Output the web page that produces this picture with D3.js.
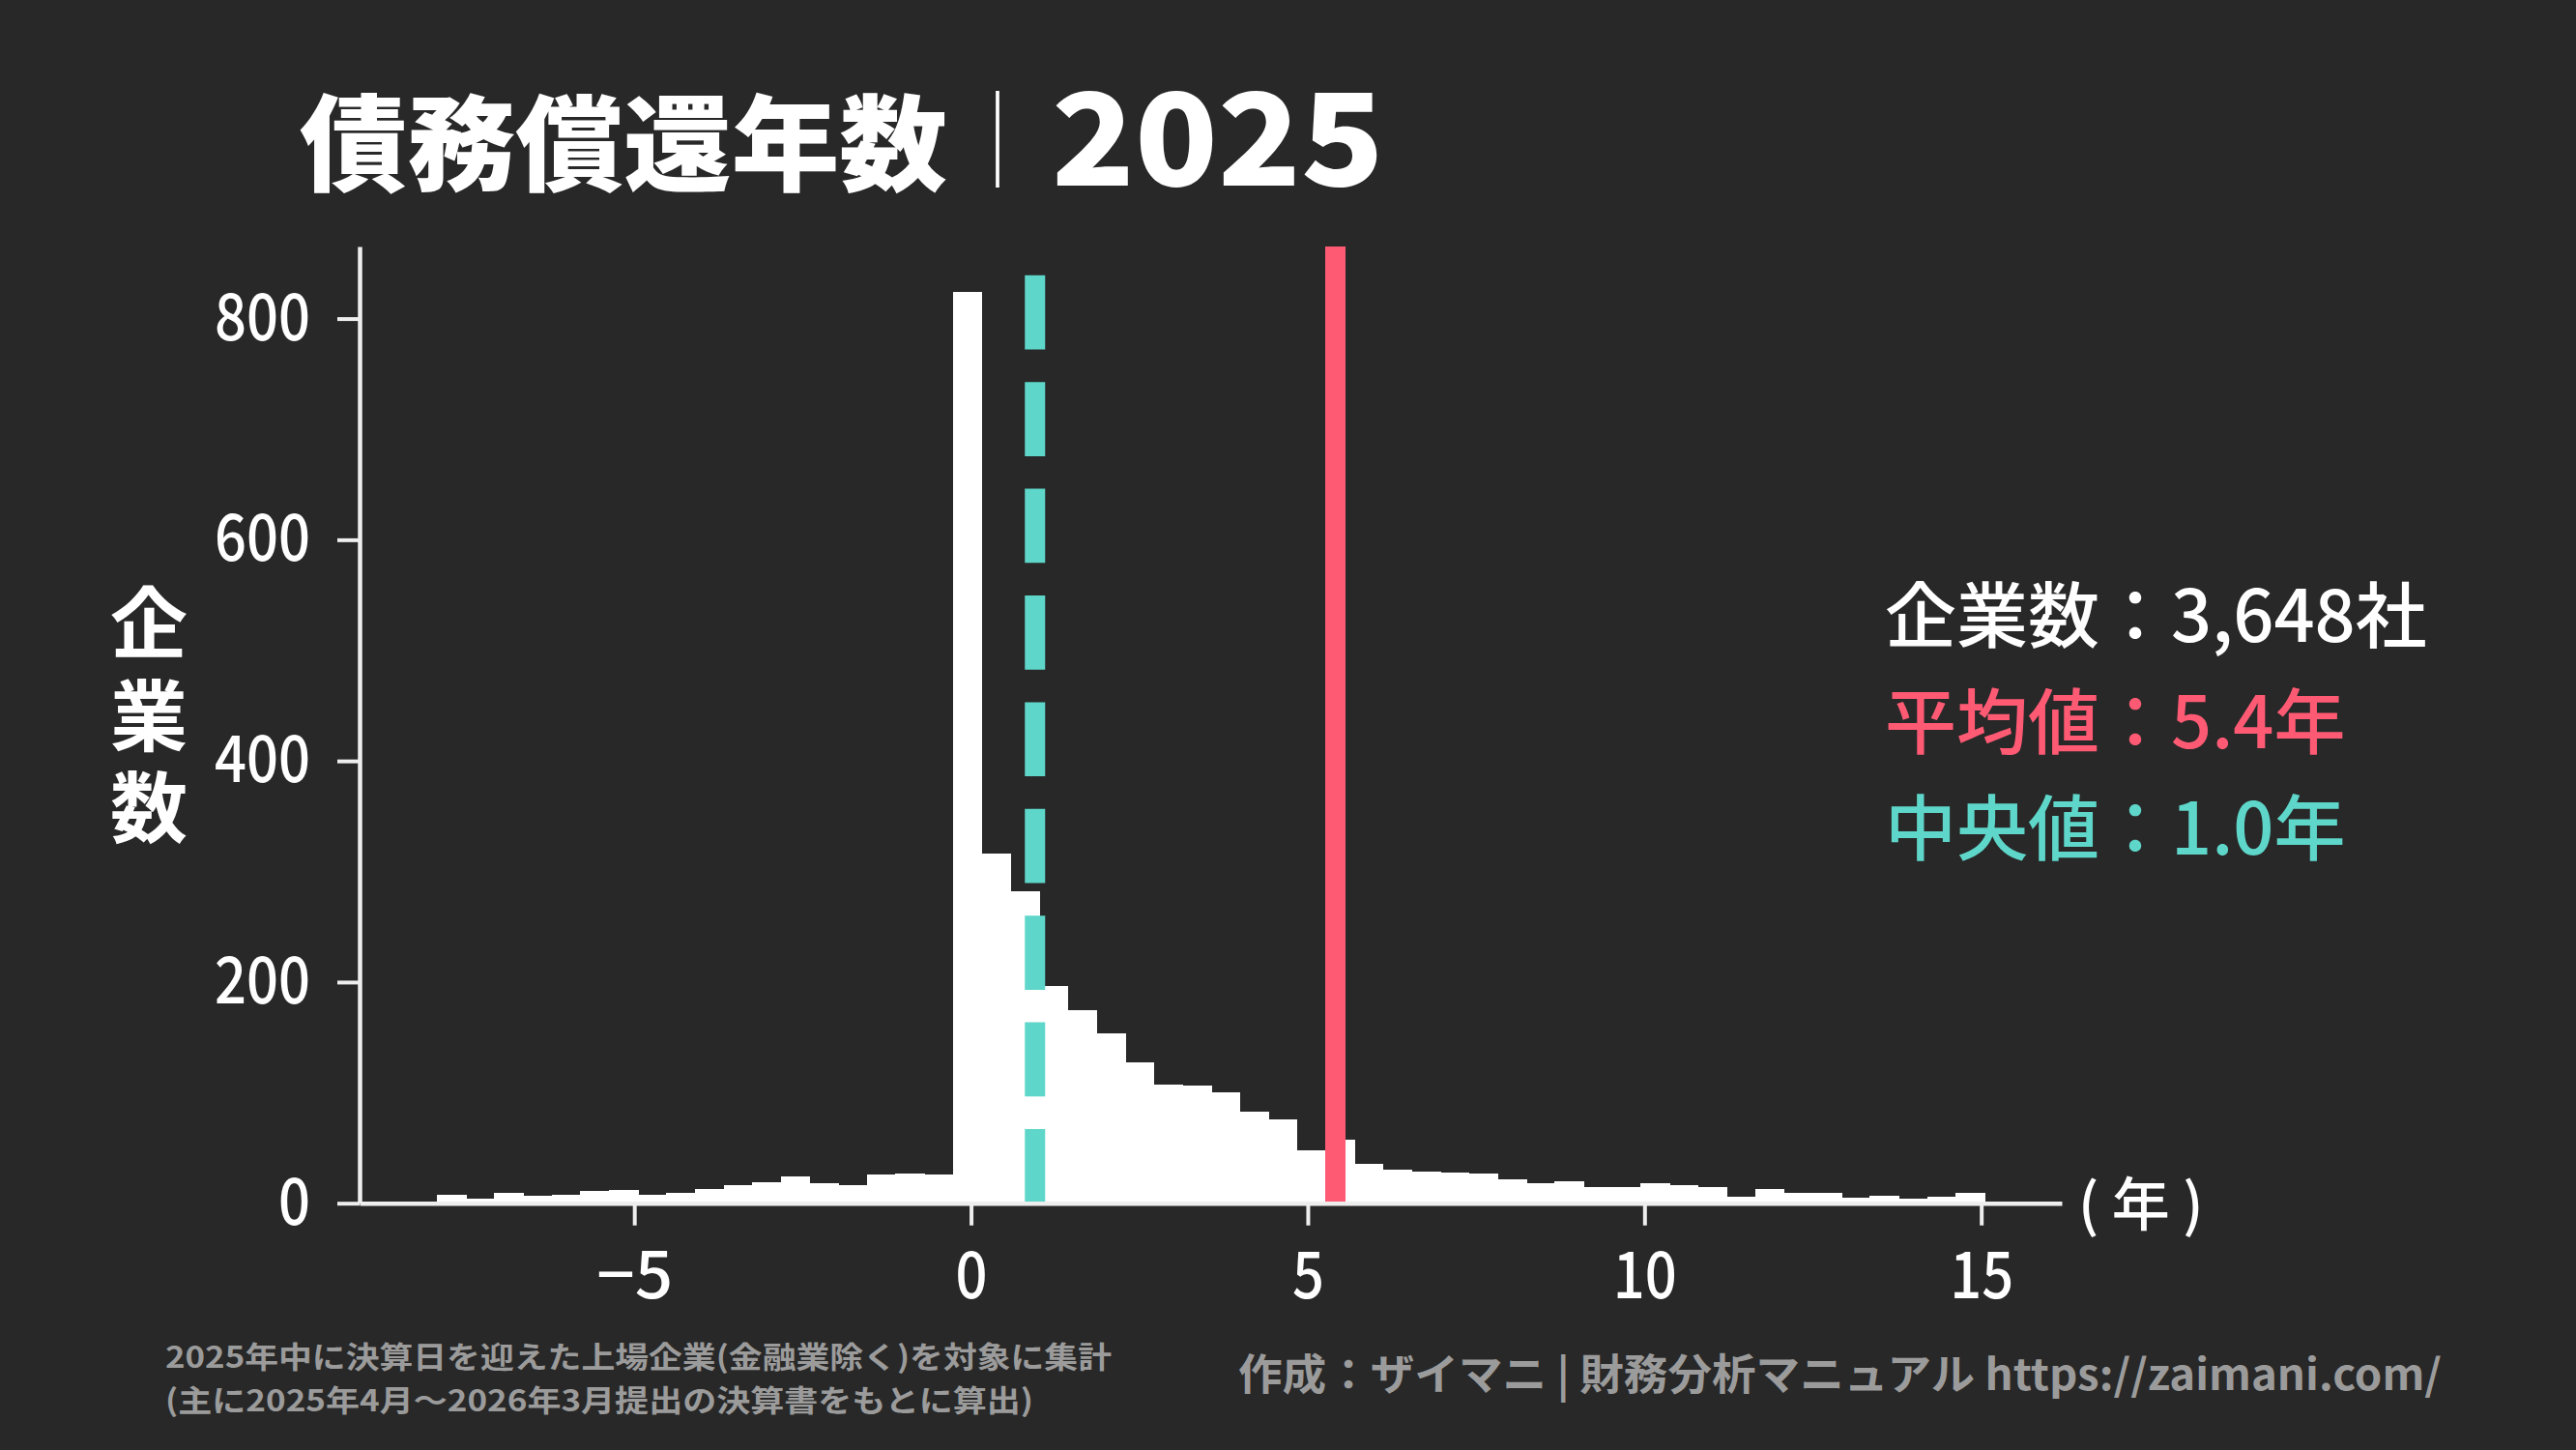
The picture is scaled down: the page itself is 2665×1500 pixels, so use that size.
<!DOCTYPE html>
<html><head><meta charset="utf-8">
<script src="https://cdn.jsdelivr.net/npm/d3@7"></script>
<style>html,body{margin:0;padding:0;background:#282828;} svg{display:block}</style>
</head><body>
<svg id="chart" width="2665" height="1500"></svg>
<script>
// ---- data ----
const binStart = -7.93;
const binWidth = 0.4255;
const binCounts = [8,4,9,7,8,11,12,8,9,13,16,19,24,18,16,26,27,26,
  824,316,282,196,175,154,127,107,106,100,83,76,48,57,36,
  30,29,28,27,22,18,20,15,15,18,16,15,6,13,9,9,5,7,4,6,9];
const xTickValues = [-5,0,5,10,15];
const xTickLabels = ["−5","0","5","10","15"];
const yTickValues = [0,200,400,600,800];
const meanYears = 5.41;
const medianYears = 0.95;
const titleMain = "債務償還年数";
const titleSep = "｜";
const titleYear = "2025";
const yAxisLabel = "企業数";
const xAxisLabel = "( 年 )";
const legendTexts = ["企業数：3,648社","平均値：5.4年","中央値：1.0年"];
const noteLines = ["2025年中に決算日を迎えた上場企業(金融業除く)を対象に集計","(主に2025年4月～2026年3月提出の決算書をもとに算出)"];
const creditText = "作成：ザイマニ | 財務分析マニュアル https://zaimani.com/";

// ---- styles ----
const BG="#282828", WHITE="#ffffff", RED="#ff5a74", TEAL="#5ed6c9", GRAY="#9b9b9b", AXIS="#eeeeee";
const FONT="'Noto Sans CJK JP','Noto Sans',sans-serif";

const svg = d3.select("#chart");
svg.append("rect").attr("width",2665).attr("height",1500).attr("fill",BG);

const bins = binCounts.map((c,i)=>({x0: binStart + i*binWidth, x1: binStart + (i+1)*binWidth, count:c}));
const binEnd = binStart + binCounts.length*binWidth;
const xr = binEnd - binStart;
const x = d3.scaleLinear().domain([binStart-0.05*xr, binEnd+0.05*xr]).range([372,2133]);
const y = d3.scaleLinear().domain([0, d3.max(binCounts)*1.05]).range([1244.7,255]);

// bars
svg.append("g").attr("shape-rendering","crispEdges").selectAll("rect").data(bins).join("rect")
  .attr("x",d=>x(d.x0)).attr("width",d=>x(d.x1)-x(d.x0)+1)
  .attr("y",d=>y(d.count)).attr("height",d=>y(0)-y(d.count))
  .attr("fill",WHITE);

// mean / median lines
svg.append("line").attr("x1",x(meanYears)).attr("x2",x(meanYears))
  .attr("y1",y.range()[0]).attr("y2",y.range()[1])
  .attr("stroke",RED).attr("stroke-width",21);
svg.append("line").attr("x1",x(medianYears)).attr("x2",x(medianYears))
  .attr("y1",y.range()[0]).attr("y2",y.range()[1])
  .attr("stroke",TEAL).attr("stroke-width",21).attr("stroke-dasharray","76.7 33.7");

// axes
const digitW = 33;
const labelLen = s => s.replace("−","").length*digitW + (s.includes("−")?46:0);
const yAxis = svg.append("g").attr("transform","translate(372,0)")
  .call(d3.axisLeft(y).tickValues(yTickValues).tickSize(23).tickSizeOuter(0).tickPadding(28));
const xAxis = svg.append("g").attr("transform",`translate(0,${y(0)})`)
  .call(d3.axisBottom(x).tickValues(xTickValues).tickFormat((d,i)=>xTickLabels[i]).tickSize(23).tickSizeOuter(0));
[yAxis,xAxis].forEach(g=>{
  g.select(".domain").attr("stroke",AXIS).attr("stroke-width",4.5);
  g.selectAll(".tick line").attr("stroke",AXIS).attr("stroke-width",4);
  g.selectAll(".tick text").attr("fill",WHITE).attr("font-family",FONT).attr("font-size",67).attr("font-weight",500)
    .each(function(){ const s=d3.select(this).text(); d3.select(this).attr("textLength",labelLen(s)).attr("lengthAdjust","spacingAndGlyphs"); });
});
xAxis.selectAll(".tick text").attr("y",74).attr("dy","0.36em");

// x axis label
svg.append("text").attr("x",2150).attr("y",1246).attr("dy","0.36em")
  .attr("fill",WHITE).attr("font-family",FONT).attr("font-size",60).attr("font-weight",500)
  .text(xAxisLabel);

// y axis label (vertical)
svg.append("text").attr("transform","translate(154,604)")
  .attr("writing-mode","vertical-rl").attr("text-orientation","upright")
  .attr("letter-spacing",15.5)
  .attr("fill",WHITE).attr("font-family",FONT)
  .attr("font-size",80).attr("font-weight",700).text(yAxisLabel);

// title
svg.append("text").attr("x",310).attr("y",189).attr("fill",WHITE).attr("font-family",FONT)
  .attr("font-size",108).attr("font-weight",900)
  .attr("textLength",670).attr("lengthAdjust","spacingAndGlyphs").text(titleMain);
svg.append("text").attr("x",984).attr("y",182).attr("fill",WHITE).attr("font-family",FONT)
  .attr("font-size",100).attr("font-weight",300)
  .attr("textLength",96).attr("lengthAdjust","spacingAndGlyphs").text(titleSep);
svg.append("text").attr("x",1088).attr("y",192).attr("fill",WHITE).attr("font-family",FONT)
  .attr("font-size",132).attr("font-weight",900)
  .attr("textLength",344).attr("lengthAdjust","spacingAndGlyphs").text(titleYear);

// legend
const legendColors=[WHITE,RED,TEAL];
svg.append("g").selectAll("text").data(legendTexts).join("text")
  .attr("x",1950).attr("y",(d,i)=>664+i*110).attr("fill",(d,i)=>legendColors[i])
  .attr("font-family",FONT).attr("font-size",74).attr("font-weight",500).text(d=>d);

// notes
svg.append("g").selectAll("text").data(noteLines).join("text")
  .attr("x",171).attr("y",(d,i)=>1415+i*45).attr("fill",GRAY)
  .attr("font-family",FONT).attr("font-size",31).attr("font-weight",700)
  .attr("textLength",(d,i)=>[979,898][i]).attr("lengthAdjust","spacingAndGlyphs").text(d=>d);
svg.append("text").attr("x",2526).attr("y",1438).attr("text-anchor","end").attr("fill",GRAY)
  .attr("font-family",FONT).attr("font-size",44).attr("font-weight",700)
  .attr("textLength",1245).attr("lengthAdjust","spacingAndGlyphs").text(creditText);
</script>
</body></html>
